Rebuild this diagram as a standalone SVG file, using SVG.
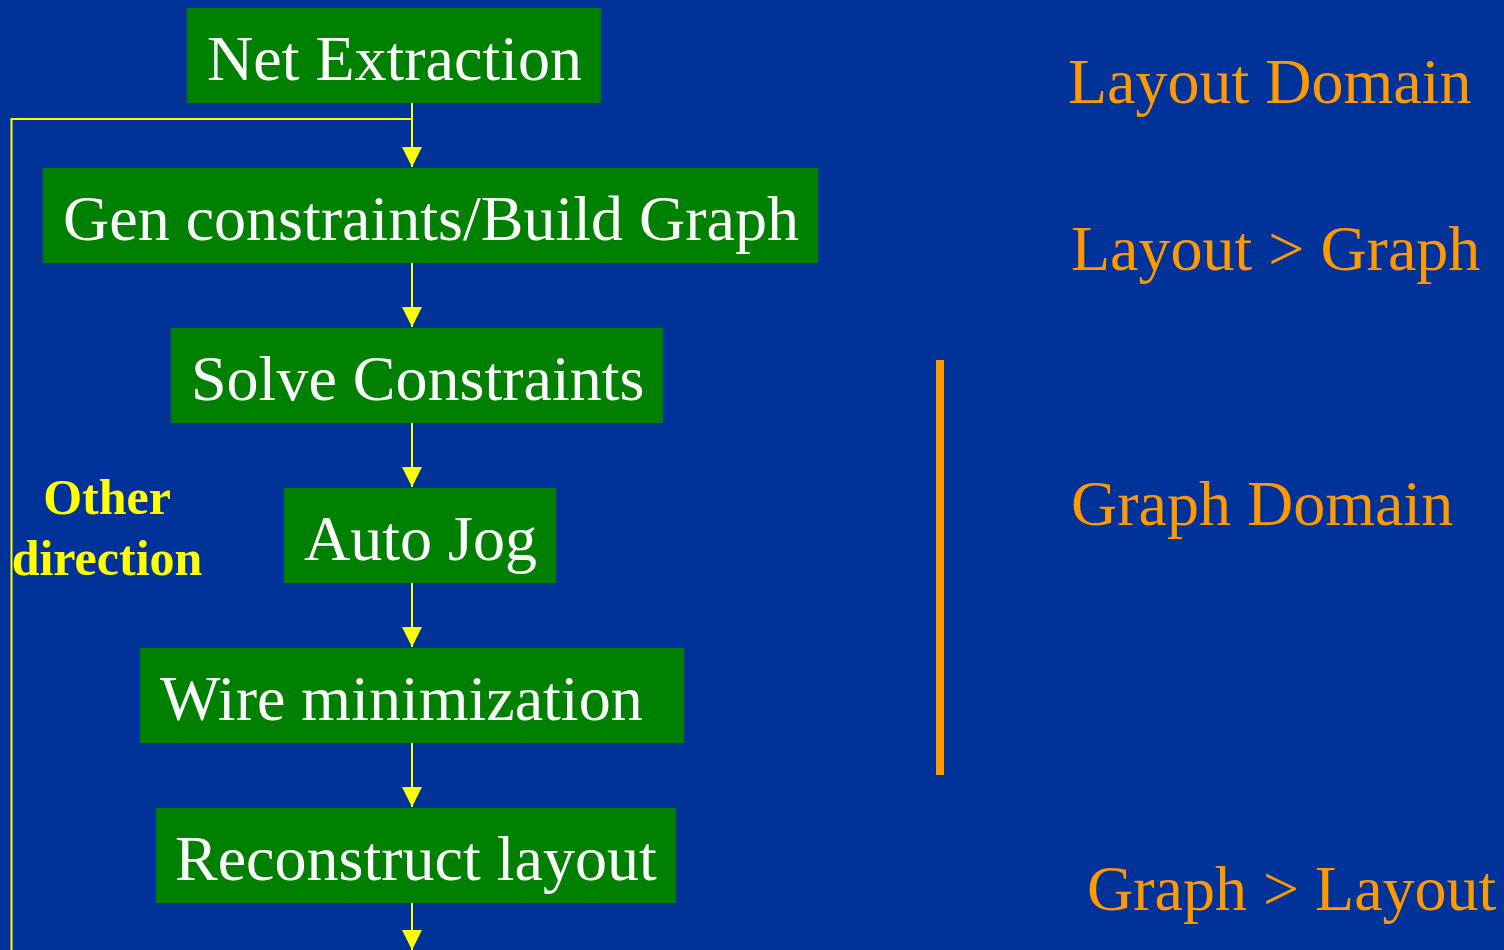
<svg xmlns="http://www.w3.org/2000/svg" width="1504" height="950" viewBox="0 0 1504 950">
<style>
.box{fill:#008000}
.bt{font-family:"Liberation Serif","Times New Roman",serif;font-size:64px;fill:#ffffff}
.rt{font-family:"Liberation Serif","Times New Roman",serif;font-size:64px;fill:#ff9900}
.yt{font-family:"Liberation Serif","Times New Roman",serif;font-size:50px;font-weight:bold;fill:#ffff00;text-anchor:middle}
.ln{stroke:#ffff00;stroke-width:2;fill:none}
</style>
<defs>
<marker id="ah" markerWidth="20" markerHeight="20" viewBox="0 0 20 20" refX="20" refY="10" orient="auto" markerUnits="userSpaceOnUse">
<path d="M0,0 L20,10 L0,20 Z" fill="#ffff00"/>
</marker>
</defs>
<rect width="1504" height="950" fill="#003399"/>
<g id="connectors">
<path class="ln" d="M412,103 V167" marker-end="url(#ah)"/>
<path class="ln" d="M412,263 V327" marker-end="url(#ah)"/>
<path class="ln" d="M412,423 V487" marker-end="url(#ah)"/>
<path class="ln" d="M412,583 V647" marker-end="url(#ah)"/>
<path class="ln" d="M412,743 V807" marker-end="url(#ah)"/>
<path class="ln" d="M412,903 V950" marker-end="url(#ah)"/>
<path class="ln" d="M412,119 H11.5 V950"/>
</g>
<g id="n1"><rect class="box" x="187" y="8" width="414" height="95"/><text class="bt" x="207" y="80">Net Extraction</text></g>
<g id="n2"><rect class="box" x="43" y="168" width="775" height="95"/><text class="bt" x="63" y="240">Gen constraints/Build Graph</text></g>
<g id="n3"><rect class="box" x="171" y="328" width="492" height="95"/><text class="bt" x="191" y="400">Solve Constraints</text></g>
<g id="n4"><rect class="box" x="284" y="488" width="272" height="95"/><text class="bt" x="304" y="560">Auto Jog</text></g>
<g id="n5"><rect class="box" x="140" y="648" width="544" height="95"/><text class="bt" x="160" y="720">Wire minimization</text></g>
<g id="n6"><rect class="box" x="156" y="808" width="520" height="95"/><text class="bt" x="175" y="880">Reconstruct layout</text></g>
<g id="label-other">
<text class="yt" x="107" y="514">Other</text>
<text class="yt" x="107" y="575">direction</text>
</g>
<g id="domains">
<rect x="936" y="360" width="8" height="415" fill="#ff9900"/>
<text class="rt" x="1068" y="103">Layout Domain</text>
<text class="rt" x="1071" y="270">Layout &gt; Graph</text>
<text class="rt" x="1071" y="525">Graph Domain</text>
<text class="rt" x="1087" y="910">Graph &gt; Layout</text>
</g>
</svg>
